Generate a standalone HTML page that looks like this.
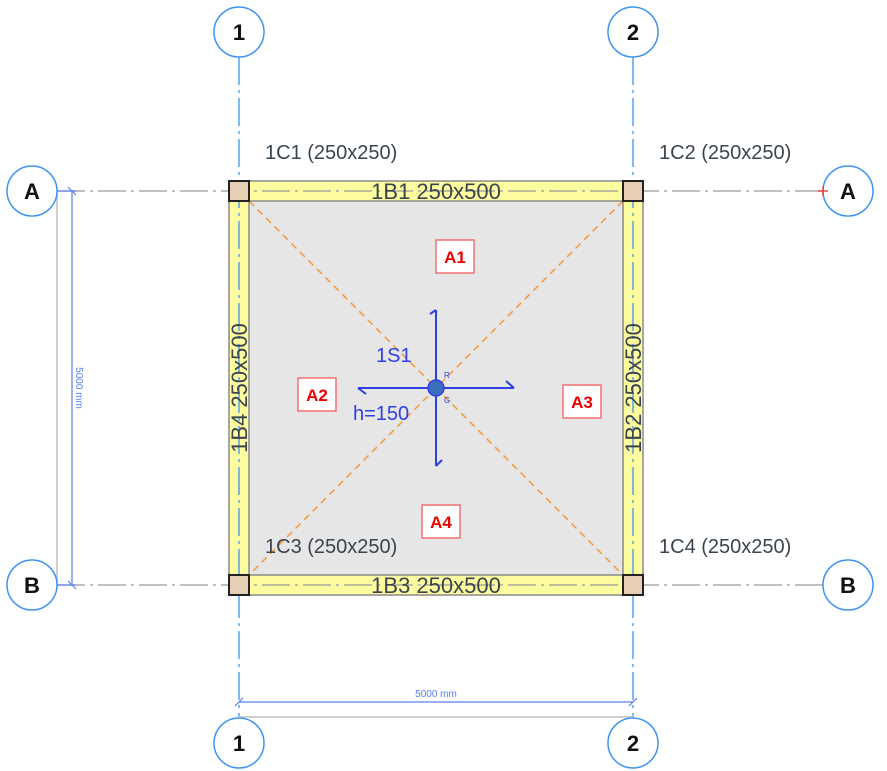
<!DOCTYPE html>
<html><head><meta charset="utf-8"><style>html,body{margin:0;padding:0;background:#fff}svg{display:block}</style></head>
<body>
<svg width="887" height="771" viewBox="0 0 887 771" xmlns="http://www.w3.org/2000/svg" font-family="Liberation Sans, sans-serif">
<!-- slab -->
<rect x="249" y="201" width="374" height="374" fill="#e6e6e6"/>
<!-- beams -->
<g fill="#fdfda0" stroke="#8a8a8a" stroke-width="1.5">
<rect x="229" y="181" width="414" height="20"/>
<rect x="229" y="575" width="414" height="20"/>
<rect x="229" y="181" width="20" height="414"/>
<rect x="623" y="181" width="20" height="414"/>
</g>
<!-- diagonals -->
<g stroke="#f39a3c" stroke-width="1.5" stroke-dasharray="7,5">
<line x1="249" y1="201" x2="623" y2="575"/>
<line x1="623" y1="201" x2="249" y2="575"/>
</g>
<!-- grid lines -->
<g stroke="#999" stroke-width="1.3" stroke-dasharray="28,5,3,5" fill="none">
<line x1="57" y1="191" x2="823" y2="191"/>
<line x1="57" y1="585" x2="823" y2="585"/>
</g>
<g stroke="#3d94f0" stroke-width="1.3" stroke-dasharray="28,5,3,5" fill="none">
<line x1="239" y1="57" x2="239" y2="717"/>
<line x1="633" y1="57" x2="633" y2="717"/>
</g>
<!-- columns -->
<g fill="#e6cfb3" stroke="#222" stroke-width="2">
<rect x="229" y="181" width="20" height="20"/>
<rect x="623" y="181" width="20" height="20"/>
<rect x="229" y="575" width="20" height="20"/>
<rect x="623" y="575" width="20" height="20"/>
</g>
<!-- beam labels -->
<g fill="#3a4450" font-size="22">
<text x="436" y="199" text-anchor="middle">1B1 250x500</text>
<text x="436" y="593" text-anchor="middle">1B3 250x500</text>
<text transform="translate(247,388) rotate(-90)" text-anchor="middle">1B4 250x500</text>
<text transform="translate(641,388) rotate(-90)" text-anchor="middle">1B2 250x500</text>
</g>
<g fill="#3a4450" font-size="20">
<text x="265" y="159">1C1 (250x250)</text>
<text x="659" y="159">1C2 (250x250)</text>
<text x="265" y="553">1C3 (250x250)</text>
<text x="659" y="553">1C4 (250x250)</text>
</g>
<!-- dimensions -->
<g stroke="#cfcfcf" stroke-width="2"><line x1="57" y1="191" x2="57" y2="585"/><line x1="239" y1="717" x2="633" y2="717"/></g>
<g stroke="#5b7ff0" stroke-width="1.2">
<line x1="57" y1="191" x2="76" y2="191"/><line x1="57" y1="585" x2="76" y2="585"/>
<line x1="72" y1="191" x2="72" y2="585"/>
<line x1="68" y1="187" x2="76" y2="195"/><line x1="68" y1="581" x2="76" y2="589"/>
<line x1="239" y1="702" x2="633" y2="702"/>
<line x1="235" y1="706" x2="243" y2="698"/><line x1="629" y1="706" x2="637" y2="698"/>
</g>
<text x="436" y="697" text-anchor="middle" font-size="10" fill="#5b7ff0">5000 mm</text>
<text transform="translate(76,388) rotate(90)" text-anchor="middle" font-size="10" fill="#5b7ff0">5000 mm</text>
<!-- grid bubbles -->
<g fill="#fff" stroke="#3d94f0" stroke-width="1.5">
<circle cx="239" cy="32" r="25"/><circle cx="633" cy="32" r="25"/>
<circle cx="239" cy="743" r="25"/><circle cx="633" cy="743" r="25"/>
<circle cx="32" cy="191" r="25"/><circle cx="32" cy="585" r="25"/>
<circle cx="848" cy="191" r="25"/><circle cx="848" cy="585" r="25"/>
</g>
<g stroke="#e33" stroke-width="1.3"><line x1="818" y1="191" x2="828" y2="191"/><line x1="823" y1="186" x2="823" y2="196"/></g>
<g font-size="22" font-weight="bold" fill="#111" text-anchor="middle">
<text x="239" y="40">1</text><text x="633" y="40">2</text>
<text x="239" y="751">1</text><text x="633" y="751">2</text>
<text x="32" y="199">A</text><text x="32" y="593">B</text>
<text x="848" y="199">A</text><text x="848" y="593">B</text>
</g>
<!-- slab symbol -->
<g stroke="#2f3fe8" stroke-width="2" fill="none">
<line x1="436" y1="310" x2="436" y2="466"/>
<line x1="358" y1="388" x2="514" y2="388"/>
<line x1="436" y1="310" x2="430" y2="314"/>
<line x1="436" y1="466" x2="442" y2="460"/>
<line x1="358" y1="388" x2="366" y2="394"/>
<line x1="514" y1="388" x2="506" y2="381"/>
</g>
<circle cx="436" cy="388" r="8" fill="#3a6fbd" stroke="#2f3fe8" stroke-width="1.5"/>
<text x="376" y="362" font-size="20" fill="#2f3fe8">1S1</text>
<text x="353" y="420" font-size="20" fill="#2f3fe8">h=150</text>
<text x="444" y="378" font-size="8" fill="#2f3fe8">R</text>
<text x="444" y="403" font-size="8" fill="#2f3fe8">G</text>
<!-- area labels -->
<g fill="#fff" stroke="#f07070" stroke-width="1.5">
<rect x="436" y="240" width="38" height="33"/>
<rect x="298" y="378" width="38" height="33"/>
<rect x="563" y="385" width="38" height="33"/>
<rect x="422" y="505" width="38" height="33"/>
</g>
<g fill="#e00" font-size="17" font-weight="bold" text-anchor="middle">
<text x="455" y="263">A1</text><text x="317" y="401">A2</text>
<text x="582" y="408">A3</text><text x="441" y="528">A4</text>
</g>
</svg>
</body></html>
